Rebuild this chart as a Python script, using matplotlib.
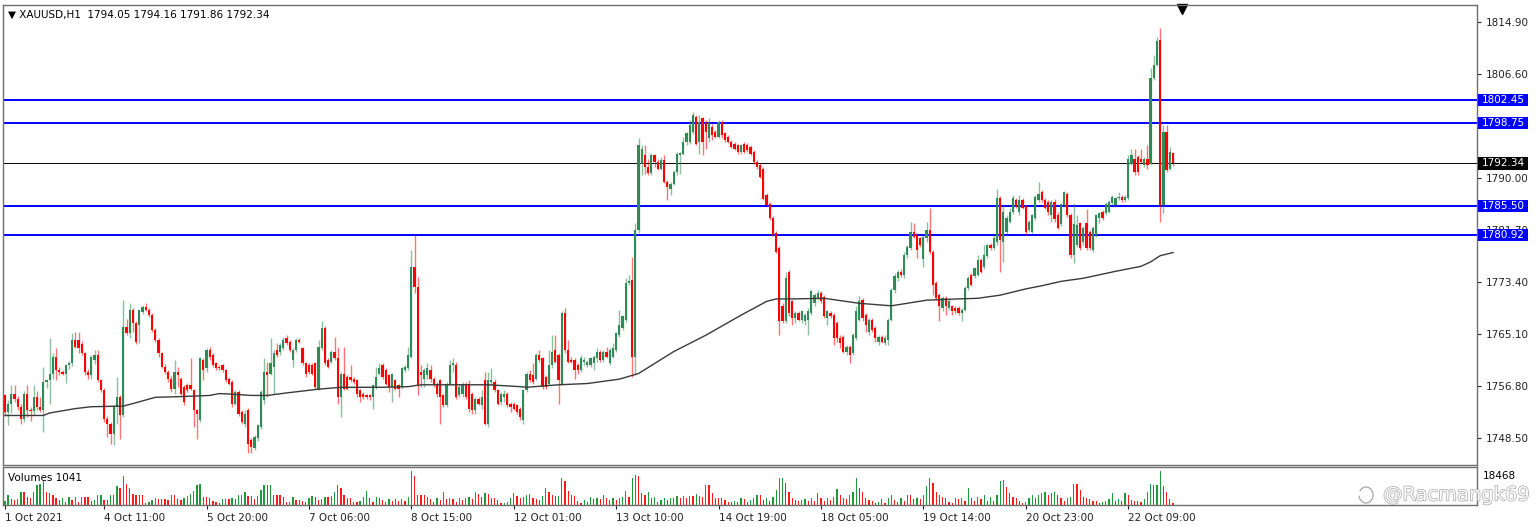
import numpy as np
import matplotlib.pyplot as plt
import matplotlib.transforms as mtransforms
import matplotlib.patheffects as pe
from matplotlib.patches import Rectangle, Arc

# ---------------- data (XAUUSD H1) ----------------
opens = [
    1755.3, 1752.7, 1754.0, 1755.5, 1754.8, 1753.5, 1751.6, 1755.6, 1753.0, 1752.8,
    1755.1, 1753.4, 1753.0, 1757.5, 1757.8, 1758.8, 1761.5, 1759.3, 1759.0, 1758.8,
    1760.1, 1760.5, 1764.1, 1764.1, 1763.5, 1762.0, 1759.1, 1758.5, 1761.0, 1761.8,
    1757.7, 1756.1, 1751.6, 1750.8, 1749.2, 1753.5, 1755.1, 1752.1, 1766.2, 1765.2,
    1768.9, 1766.8, 1766.5, 1768.6, 1769.4, 1768.9, 1768.1, 1765.7, 1764.1, 1762.0,
    1759.9, 1759.1, 1758.0, 1756.4, 1759.1, 1758.0, 1756.7, 1757.0, 1757.0, 1756.1,
    1752.9, 1751.4, 1760.9, 1759.6, 1762.5, 1761.7, 1760.4, 1759.9, 1760.1, 1759.3,
    1758.0, 1757.5, 1754.0, 1755.9, 1752.7, 1750.8, 1753.0, 1748.2, 1746.9, 1748.5,
    1750.3, 1754.6, 1759.1, 1758.8, 1759.9, 1762.5, 1762.2, 1762.8, 1764.4, 1763.9,
    1760.9, 1762.5, 1764.1, 1762.8, 1760.4, 1760.1, 1760.1, 1760.4, 1756.4, 1762.8,
    1766.0, 1760.9, 1760.7, 1762.3, 1761.2, 1755.1, 1758.8, 1758.3, 1758.3, 1758.0,
    1757.8, 1756.2, 1755.6, 1755.4, 1755.4, 1755.1, 1756.7, 1758.8, 1760.1, 1759.3,
    1758.6, 1756.7, 1757.8, 1756.9, 1756.7, 1759.3, 1759.6, 1761.5, 1775.8, 1772.6,
    1759.1, 1758.0, 1758.6, 1759.3, 1758.0, 1757.2, 1757.8, 1755.4, 1753.8, 1757.2,
    1760.1, 1760.1, 1755.4, 1755.6, 1757.2, 1757.2, 1755.6, 1753.0, 1754.8, 1753.8,
    1757.8, 1750.8, 1757.5, 1757.5, 1756.2, 1754.3, 1755.1, 1755.6, 1754.0, 1754.0,
    1753.8, 1753.2, 1751.4, 1756.2, 1758.8, 1758.6, 1758.0, 1761.7, 1761.2, 1758.3,
    1757.2, 1760.1, 1762.5, 1761.7, 1757.2, 1768.4, 1762.5, 1761.0, 1760.9, 1760.1,
    1759.3, 1760.7, 1760.2, 1760.1, 1760.4, 1761.2, 1762.3, 1761.0, 1762.3, 1760.4,
    1761.5, 1762.5, 1765.0, 1766.0, 1767.3, 1773.2, 1773.7, 1761.5, 1781.7, 1792.3,
    1793.7, 1791.8, 1790.8, 1793.7, 1792.6, 1791.5, 1792.9, 1789.4, 1788.3, 1789.1,
    1791.0, 1793.7, 1793.9, 1795.8, 1795.8, 1797.4, 1799.8, 1795.8, 1799.5, 1798.7,
    1796.3, 1798.2, 1797.4, 1796.6, 1799.0, 1797.1, 1796.6, 1795.8, 1795.5, 1795.3,
    1794.2, 1795.5, 1795.3, 1795.0, 1794.2, 1792.6, 1792.1, 1791.5, 1787.3, 1785.9,
    1783.6, 1781.2, 1778.8, 1769.5, 1767.1, 1775.0, 1770.3, 1767.6, 1768.4, 1767.3,
    1767.1, 1767.3, 1768.4, 1770.0, 1770.8, 1771.6, 1771.0, 1767.6, 1768.4, 1768.1,
    1766.8, 1764.4, 1764.7, 1762.3, 1763.0, 1762.0, 1764.4, 1767.3, 1770.5, 1768.1,
    1765.5, 1767.3, 1766.0, 1763.9, 1764.7, 1763.6, 1764.1, 1767.4, 1772.1, 1774.0,
    1775.0, 1774.5, 1777.7, 1778.8, 1781.4, 1780.9, 1780.4, 1777.0, 1780.4, 1781.7,
    1778.2, 1773.2, 1771.3, 1769.2, 1770.8, 1769.2, 1769.5, 1769.2, 1769.2, 1768.4,
    1769.0, 1772.4, 1774.5, 1774.3, 1774.5, 1776.9, 1775.8, 1777.5, 1779.3, 1778.8,
    1779.8, 1786.8, 1779.8, 1781.4, 1783.0, 1784.6, 1786.5, 1784.6, 1786.5, 1785.5,
    1781.7, 1781.4, 1783.6, 1786.5, 1787.8, 1786.5, 1786.2, 1784.1, 1786.2, 1784.1,
    1782.7, 1785.7, 1787.5, 1784.1, 1777.7, 1779.3, 1782.8, 1779.8, 1782.8, 1781.4,
    1778.5, 1780.9, 1783.6, 1784.6, 1784.4, 1784.6, 1786.0, 1785.7, 1786.8, 1787.0,
    1786.5, 1786.8, 1792.3, 1793.1, 1793.4, 1793.1, 1792.1, 1793.1, 1792.3, 1805.9,
    1808.0, 1812.0, 1785.7, 1797.4, 1791.5, 1794.05,
]
highs = [
    1755.6, 1754.6, 1757.0, 1757.0, 1755.2, 1754.0, 1756.0, 1757.0, 1753.5, 1757.0,
    1756.0, 1755.0, 1759.9, 1758.0, 1764.4, 1762.0, 1762.8, 1759.8, 1759.3, 1760.3,
    1760.8, 1765.2, 1765.5, 1765.5, 1764.0, 1762.3, 1759.5, 1761.8, 1762.5, 1762.6,
    1758.0, 1756.5, 1752.0, 1751.0, 1753.8, 1758.3, 1755.4, 1770.5, 1767.5, 1770.0,
    1769.3, 1767.2, 1769.0, 1769.8, 1770.0, 1769.2, 1768.4, 1766.0, 1764.4, 1762.3,
    1760.3, 1759.4, 1758.4, 1760.9, 1759.8, 1758.3, 1757.0, 1757.3, 1761.2, 1756.4,
    1753.2, 1761.5, 1761.3, 1762.8, 1763.1, 1762.0, 1760.6, 1760.1, 1760.3, 1759.5,
    1758.2, 1757.8, 1756.2, 1756.2, 1753.0, 1753.0, 1753.3, 1748.5, 1749.0, 1750.8,
    1756.2, 1761.2, 1760.7, 1764.4, 1762.5, 1763.6, 1763.6, 1764.7, 1764.9, 1764.1,
    1762.8, 1764.4, 1764.4, 1763.1, 1760.7, 1760.4, 1760.4, 1760.7, 1764.1, 1767.1,
    1766.3, 1761.2, 1762.5, 1764.7, 1763.1, 1759.1, 1763.1, 1758.6, 1760.1, 1758.3,
    1758.0, 1756.4, 1755.9, 1755.6, 1755.6, 1757.2, 1759.9, 1760.4, 1760.4, 1759.6,
    1758.8, 1758.9, 1758.0, 1757.2, 1759.9, 1760.1, 1763.1, 1778.5, 1780.9, 1774.2,
    1760.2, 1759.6, 1760.4, 1760.1, 1758.3, 1757.5, 1758.0, 1755.6, 1757.5, 1760.9,
    1761.2, 1760.7, 1757.2, 1757.5, 1757.5, 1757.8, 1755.9, 1755.1, 1755.1, 1756.2,
    1759.1, 1759.1, 1759.6, 1758.0, 1756.4, 1755.9, 1756.2, 1755.9, 1754.3, 1754.3,
    1754.0, 1753.5, 1756.4, 1759.1, 1759.3, 1760.4, 1762.0, 1762.5, 1761.5, 1758.6,
    1762.5, 1764.9, 1764.9, 1762.0, 1768.7, 1769.2, 1764.1, 1761.5, 1761.2, 1760.4,
    1761.7, 1761.5, 1761.0, 1761.5, 1761.8, 1762.8, 1762.6, 1762.5, 1763.1, 1762.8,
    1763.6, 1765.5, 1768.9, 1768.2, 1774.0, 1774.5, 1777.4, 1782.8, 1796.3, 1795.3,
    1795.3, 1793.0, 1794.0, 1793.9, 1793.1, 1793.4, 1793.7, 1789.7, 1789.4, 1791.2,
    1794.2, 1794.2, 1796.6, 1797.4, 1799.3, 1800.6, 1800.1, 1800.1, 1799.8, 1799.3,
    1799.5, 1798.6, 1797.7, 1799.3, 1799.3, 1797.4, 1796.9, 1796.1, 1795.8, 1795.5,
    1795.5, 1795.8, 1795.6, 1795.3, 1794.5, 1792.9, 1792.4, 1791.8, 1787.6, 1786.2,
    1783.9, 1781.5, 1779.1, 1770.0, 1775.0, 1775.3, 1770.6, 1768.7, 1768.7, 1769.0,
    1768.4, 1769.2, 1772.2, 1771.6, 1772.1, 1772.0, 1771.3, 1768.9, 1768.7, 1768.4,
    1767.1, 1764.9, 1765.0, 1763.3, 1763.3, 1765.2, 1769.5, 1771.1, 1770.8, 1768.4,
    1767.6, 1767.6, 1766.3, 1765.0, 1765.0, 1764.9, 1767.6, 1772.4, 1774.8, 1775.3,
    1775.5, 1778.2, 1779.3, 1783.0, 1782.8, 1781.2, 1780.6, 1780.9, 1783.0, 1785.2,
    1778.5, 1773.5, 1771.6, 1771.1, 1771.1, 1770.8, 1769.8, 1769.5, 1769.5, 1769.2,
    1772.7, 1774.3, 1774.8, 1775.8, 1777.7, 1777.2, 1779.3, 1779.5, 1779.6, 1780.9,
    1788.3, 1787.2, 1785.7, 1784.1, 1785.2, 1787.3, 1786.8, 1787.3, 1786.8, 1785.7,
    1783.3, 1784.3, 1787.3, 1789.4, 1788.1, 1786.8, 1786.5, 1786.5, 1786.6, 1784.6,
    1786.0, 1788.0, 1787.8, 1784.4, 1786.0, 1784.1, 1783.0, 1782.3, 1785.0, 1781.7,
    1782.3, 1784.3, 1784.6, 1784.9, 1786.2, 1786.5, 1787.3, 1787.0, 1787.8, 1787.3,
    1787.3, 1793.7, 1794.7, 1794.7, 1793.7, 1794.7, 1793.4, 1795.3, 1807.5, 1809.6,
    1812.5, 1813.9, 1798.5, 1798.5, 1795.0, 1794.16,
]
lows = [
    1752.0, 1750.6, 1752.5, 1754.2, 1753.0, 1750.8, 1751.0, 1751.8, 1751.2, 1752.2,
    1753.0, 1752.6, 1749.5, 1756.5, 1754.0, 1758.0, 1757.7, 1758.5, 1758.6, 1757.3,
    1759.5, 1760.0, 1762.8, 1762.0, 1761.8, 1758.5, 1757.9, 1758.0, 1760.3, 1757.5,
    1755.8, 1751.0, 1748.7, 1747.6, 1747.4, 1750.8, 1748.4, 1751.8, 1764.9, 1764.5,
    1765.5, 1763.5, 1763.6, 1768.3, 1768.7, 1767.8, 1765.5, 1763.8, 1761.5, 1759.7,
    1758.8, 1757.5, 1755.9, 1755.6, 1756.6, 1755.4, 1753.8, 1755.8, 1756.2, 1750.3,
    1748.4, 1751.0, 1757.8, 1759.0, 1760.9, 1759.9, 1759.4, 1759.4, 1759.0, 1757.5,
    1756.9, 1753.5, 1753.7, 1752.0, 1750.8, 1750.3, 1746.1, 1746.1, 1746.6, 1748.0,
    1750.0, 1754.0, 1755.1, 1758.5, 1755.6, 1761.5, 1761.8, 1762.5, 1763.4, 1762.3,
    1759.9, 1762.2, 1763.6, 1760.1, 1758.3, 1758.8, 1758.5, 1756.4, 1756.2, 1762.5,
    1760.1, 1759.6, 1760.4, 1761.0, 1754.0, 1751.9, 1756.2, 1756.2, 1757.5, 1757.2,
    1755.1, 1754.3, 1754.8, 1754.8, 1754.6, 1753.2, 1756.4, 1758.5, 1758.0, 1757.0,
    1755.9, 1754.3, 1756.2, 1755.1, 1756.4, 1759.0, 1759.3, 1761.2, 1771.6, 1755.3,
    1756.7, 1756.7, 1758.0, 1757.5, 1756.7, 1755.1, 1750.8, 1753.5, 1753.5, 1756.9,
    1759.0, 1754.8, 1755.1, 1755.1, 1754.8, 1752.7, 1752.4, 1752.4, 1753.8, 1753.2,
    1750.6, 1750.3, 1757.0, 1755.9, 1753.8, 1753.8, 1754.3, 1753.5, 1752.7, 1753.0,
    1752.4, 1751.4, 1750.8, 1755.9, 1757.5, 1757.2, 1757.8, 1760.7, 1756.4, 1756.4,
    1756.9, 1759.6, 1760.4, 1754.0, 1757.0, 1762.0, 1760.4, 1760.4, 1758.0, 1758.8,
    1759.0, 1760.2, 1759.9, 1759.8, 1759.3, 1760.7, 1760.7, 1760.6, 1761.2, 1760.2,
    1761.2, 1762.3, 1764.7, 1765.7, 1767.0, 1772.9, 1758.3, 1758.6, 1781.2, 1790.5,
    1790.7, 1790.5, 1790.5, 1791.8, 1791.2, 1791.2, 1789.2, 1786.5, 1787.3, 1788.8,
    1790.5, 1790.7, 1793.6, 1795.3, 1795.5, 1797.0, 1795.3, 1793.9, 1793.7, 1794.7,
    1795.8, 1796.1, 1796.3, 1796.3, 1796.3, 1795.8, 1795.6, 1794.8, 1794.5, 1793.9,
    1793.9, 1794.0, 1794.2, 1793.7, 1792.3, 1791.5, 1790.0, 1786.5, 1785.5, 1783.3,
    1780.7, 1778.0, 1764.9, 1766.8, 1766.8, 1768.0, 1766.5, 1766.8, 1767.1, 1766.8,
    1766.5, 1764.9, 1768.1, 1769.5, 1770.5, 1770.0, 1767.6, 1766.5, 1767.6, 1763.3,
    1763.9, 1762.8, 1762.0, 1761.7, 1760.5, 1761.7, 1764.1, 1767.1, 1767.1, 1765.5,
    1764.9, 1765.5, 1763.9, 1763.4, 1763.6, 1763.3, 1763.4, 1767.1, 1771.6, 1773.5,
    1774.2, 1774.0, 1777.2, 1778.5, 1780.4, 1777.2, 1779.0, 1775.8, 1779.8, 1777.9,
    1771.3, 1770.5, 1767.1, 1768.7, 1768.1, 1768.9, 1768.1, 1768.5, 1768.2, 1767.1,
    1768.7, 1772.1, 1772.7, 1774.0, 1774.3, 1774.8, 1775.5, 1777.2, 1778.5, 1778.5,
    1779.3, 1775.0, 1776.6, 1781.0, 1782.8, 1784.3, 1785.2, 1784.1, 1785.0, 1780.9,
    1781.4, 1781.2, 1783.3, 1786.2, 1786.2, 1785.0, 1784.1, 1783.0, 1783.0, 1781.8,
    1782.3, 1785.4, 1783.8, 1777.2, 1776.4, 1779.0, 1778.5, 1779.3, 1778.5, 1778.5,
    1778.2, 1780.6, 1782.8, 1783.3, 1784.1, 1784.4, 1785.7, 1785.4, 1786.5, 1786.2,
    1786.2, 1786.5, 1792.0, 1790.5, 1790.5, 1792.3, 1791.8, 1791.5, 1792.0, 1805.6,
    1807.8, 1782.9, 1784.4, 1791.0, 1791.3, 1791.86,
]
closes = [
    1752.7, 1754.0, 1755.5, 1754.8, 1753.5, 1751.6, 1755.6, 1753.0, 1752.8, 1755.1,
    1753.4, 1753.0, 1757.5, 1757.8, 1758.8, 1761.5, 1759.3, 1759.0, 1758.8, 1760.1,
    1760.5, 1764.1, 1763.1, 1762.8, 1762.0, 1759.1, 1758.5, 1761.5, 1761.8, 1757.7,
    1756.1, 1751.6, 1750.8, 1749.2, 1753.5, 1755.1, 1752.1, 1766.2, 1765.2, 1768.9,
    1766.8, 1763.9, 1768.9, 1769.4, 1768.9, 1768.1, 1765.7, 1764.1, 1762.0, 1759.9,
    1759.1, 1758.0, 1756.4, 1759.1, 1758.5, 1755.6, 1754.3, 1756.1, 1756.4, 1752.9,
    1752.4, 1761.2, 1759.3, 1762.5, 1761.4, 1760.1, 1759.6, 1759.6, 1759.3, 1757.8,
    1757.2, 1754.0, 1755.9, 1752.4, 1751.1, 1752.4, 1747.6, 1747.1, 1748.7, 1750.6,
    1755.9, 1759.1, 1758.6, 1760.4, 1762.0, 1761.7, 1763.4, 1764.1, 1763.6, 1762.5,
    1762.5, 1764.1, 1763.9, 1760.4, 1758.8, 1759.1, 1758.8, 1756.7, 1763.1, 1766.0,
    1760.4, 1759.9, 1762.3, 1761.2, 1755.1, 1758.8, 1756.4, 1756.4, 1757.8, 1757.5,
    1755.6, 1755.1, 1755.1, 1755.1, 1755.1, 1756.9, 1758.3, 1759.6, 1758.3, 1757.2,
    1756.7, 1758.8, 1756.4, 1756.4, 1759.6, 1759.9, 1761.7, 1775.8, 1772.6, 1757.0,
    1758.6, 1759.3, 1759.6, 1758.0, 1757.2, 1755.6, 1755.1, 1753.8, 1757.2, 1760.1,
    1760.4, 1755.1, 1756.7, 1757.2, 1755.1, 1753.2, 1753.0, 1754.8, 1754.0, 1755.1,
    1750.8, 1757.8, 1757.8, 1756.2, 1754.0, 1755.6, 1755.6, 1753.8, 1753.5, 1753.2,
    1752.7, 1751.9, 1756.2, 1758.8, 1757.8, 1757.5, 1761.7, 1760.9, 1756.7, 1756.7,
    1760.1, 1762.3, 1760.7, 1757.8, 1768.4, 1762.5, 1760.7, 1760.7, 1759.3, 1759.3,
    1761.2, 1761.0, 1760.6, 1761.2, 1761.5, 1762.3, 1760.9, 1762.3, 1761.5, 1762.5,
    1762.8, 1765.2, 1766.5, 1768.0, 1773.2, 1773.5, 1761.5, 1781.7, 1795.3, 1794.7,
    1791.8, 1790.8, 1793.7, 1792.6, 1791.5, 1792.9, 1789.4, 1788.6, 1789.1, 1791.0,
    1793.9, 1794.0, 1795.8, 1797.1, 1798.5, 1800.1, 1795.5, 1799.0, 1795.8, 1797.4,
    1798.7, 1796.9, 1796.6, 1799.0, 1796.9, 1796.1, 1795.8, 1795.0, 1794.7, 1794.2,
    1795.3, 1794.2, 1794.5, 1793.9, 1792.6, 1791.8, 1790.2, 1786.7, 1785.7, 1783.6,
    1780.9, 1778.2, 1767.1, 1767.1, 1774.0, 1768.4, 1767.6, 1768.4, 1767.3, 1768.7,
    1768.1, 1768.7, 1771.9, 1771.3, 1771.6, 1770.3, 1767.9, 1768.7, 1767.9, 1764.4,
    1764.4, 1763.6, 1762.3, 1763.0, 1761.7, 1764.9, 1768.7, 1770.3, 1767.6, 1766.5,
    1767.3, 1765.8, 1764.4, 1764.7, 1763.9, 1764.4, 1767.4, 1772.1, 1774.3, 1775.0,
    1774.5, 1777.7, 1779.0, 1781.4, 1780.6, 1778.5, 1779.3, 1780.6, 1781.7, 1778.2,
    1772.9, 1770.8, 1769.5, 1770.8, 1769.5, 1770.3, 1768.7, 1768.7, 1768.4, 1769.0,
    1772.4, 1774.0, 1773.0, 1775.6, 1776.9, 1775.0, 1777.7, 1779.3, 1778.8, 1780.4,
    1786.8, 1780.1, 1784.6, 1783.6, 1784.6, 1786.8, 1785.4, 1786.5, 1785.2, 1781.4,
    1783.0, 1784.1, 1787.0, 1787.5, 1786.5, 1785.2, 1784.6, 1786.2, 1783.4, 1782.0,
    1785.9, 1787.8, 1784.1, 1777.7, 1782.7, 1782.5, 1778.8, 1782.0, 1778.8, 1778.8,
    1782.0, 1784.1, 1784.4, 1783.6, 1785.9, 1786.2, 1787.0, 1786.8, 1787.0, 1786.5,
    1787.0, 1793.1, 1793.7, 1791.0, 1791.0, 1792.6, 1793.1, 1792.1, 1805.9, 1808.0,
    1811.8, 1785.7, 1797.4, 1791.3, 1794.2, 1792.34,
]
volumes = [
    2200, 5200, 3100, 2800, 3100, 7000, 7000, 4300, 3900, 7000,
    10800, 11600, 12800, 7000, 6500, 5600, 3900, 2800, 3900, 1500,
    4300, 2800, 4300, 1500, 4300, 4300, 4300, 2200, 2500, 5200,
    5600, 2800, 2600, 5600, 5600, 10500, 9000, 15900, 11600, 9000,
    6000, 5600, 5200, 5200, 1200, 1500, 2500, 3900, 3100, 3100,
    3100, 2600, 5600, 5600, 3100, 2600, 3900, 4800, 6100, 7500,
    10800, 11200, 4500, 4300, 3900, 2200, 1400, 900, 3100, 3400,
    3100, 3900, 3100, 5200, 5600, 7000, 4900, 4800, 3100, 5000,
    8000, 10800, 10800, 11100, 5600, 5600, 5200, 4300, 1400, 1900,
    4300, 2600, 2600, 2200, 1400, 3600, 4800, 4300, 2600, 3100,
    4300, 4300, 4800, 7000, 10800, 9000, 5600, 3900, 3900, 1900,
    1400, 2200, 4300, 7600, 3600, 1900, 4300, 3900, 2600, 1900,
    3100, 2200, 3100, 2200, 3100, 2200, 4500, 18468, 15600, 5600,
    5600, 5600, 4300, 3100, 1900, 3600, 2800, 7000, 3100, 3900,
    3100, 1400, 3600, 2600, 3600, 4300, 3100, 7000, 6000, 4300,
    6500, 6000, 3600, 3600, 2600, 900, 1000, 1400, 3900, 6500,
    4800, 3900, 4300, 5600, 6200, 3900, 3100, 2600, 4800, 9500,
    7200, 5600, 4800, 5000, 14500, 12800, 7600, 5600, 4800, 2200,
    1200, 2600, 1900, 4300, 3100, 3900, 3100, 5200, 3900, 2600,
    3900, 2600, 3900, 4300, 7500, 4300, 14800, 16200, 15500, 6500,
    5600, 7000, 3600, 4300, 1400, 2600, 3900, 2600, 3600, 3900,
    4800, 3900, 4800, 3900, 5000, 4800, 6000, 5000, 4500, 10800,
    10800, 6500, 3900, 3600, 3600, 2600, 1400, 1400, 2200, 1900,
    3600, 3100, 1900, 2600, 3600, 5600, 5400, 2700, 3600, 2200,
    4500, 8000, 14500, 14800, 11800, 6900, 3600, 2700, 2200, 2700,
    3300, 2200, 3600, 2200, 6300, 3600, 2200, 3600, 2700, 4500,
    8700, 5400, 4000, 3300, 5400, 7000, 14500, 9000, 7200, 4000,
    2700, 2200, 900, 1800, 3300, 900, 4000, 5400, 2700, 1800,
    3600, 2200, 5400, 5400, 3300, 3600, 3300, 5400, 10500, 14500,
    11800, 6900, 5400, 4500, 3600, 1800, 900, 4000, 3300, 3600,
    2200, 9400, 3600, 2200, 4500, 3300, 5400, 2200, 4500, 2200,
    5400, 13000, 13600, 9900, 6300, 4500, 3600, 2200, 900, 1800,
    3600, 5400, 4000, 5400, 6300, 6900, 5400, 6300, 6900, 5400,
    3600, 2200, 3600, 4500, 11200, 11200, 8100, 4500, 4000, 3300,
    2200, 2200, 900, 1800, 2200, 3300, 6300, 2200, 3300, 2200,
    6300, 5400, 2700, 2200, 2200, 1500, 3300, 7000, 11200, 10900,
    11000, 18200, 10500, 6900, 3300, 1041,
]
# moving average read at a few bars
ma_bar = [0, 12, 14, 22, 27, 37, 40, 47, 54, 64, 67, 71, 77, 82, 88, 98, 105, 118, 126, 130,
          140, 151, 161, 163, 173, 182, 192, 198, 209, 219, 230, 238, 241, 246, 256, 267,
          277, 288, 298, 304, 311, 319, 324, 330, 337, 347, 355, 358, 361, 365]
ma_val = [1752.1, 1752.1, 1752.5, 1753.2, 1753.5, 1753.6, 1754.0, 1755.0, 1755.1, 1755.3,
          1755.6, 1755.5, 1755.3, 1755.3, 1755.7, 1756.3, 1756.6, 1756.6, 1756.7, 1757.0,
          1757.0, 1757.0, 1756.7, 1756.6, 1757.0, 1757.2, 1757.9, 1758.8, 1762.3, 1764.9,
          1768.1, 1770.3, 1770.7, 1770.7, 1770.8, 1770.0, 1769.6, 1770.5, 1770.7, 1770.8,
          1771.3, 1772.3, 1772.8, 1773.5, 1774.0, 1775.1, 1775.9, 1776.6, 1777.6, 1778.1]

levels = [1802.45, 1798.75, 1785.50, 1780.92]
price_ticks = [1748.50, 1756.80, 1765.10, 1773.40, 1781.70, 1790.00, 1798.30, 1806.60, 1814.90]
hidden_ticks = [1798.30]          # covered by the 1798.75 tag in the terminal
time_pos = [0, 31, 63, 95, 127, 159, 191, 223, 255, 287, 319, 351]
time_labels = ['1 Oct 2021', '4 Oct 11:00', '5 Oct 20:00', '7 Oct 06:00', '8 Oct 15:00',
               '12 Oct 01:00', '13 Oct 10:00', '14 Oct 19:00', '18 Oct 05:00',
               '19 Oct 14:00', '20 Oct 23:00', '22 Oct 09:00']
vol_scale = 18468

# ---------------- drawing ----------------
plt.rcParams['font.family'] = ['DejaVu Sans']
W, H = 1536, 527
fig = plt.figure(figsize=(W / 100, H / 100), dpi=100)
ax = fig.add_axes([3 / W, 1 - 465 / H, 1474 / W, 460 / H])
axv = fig.add_axes([3 / W, 1 - 505 / H, 1474 / W, 38 / H], sharex=ax)

n = min(len(opens), len(highs), len(lows), len(closes))
x = np.arange(n)
o = np.array(opens[:n]); h = np.array(highs[:n])
l = np.array(lows[:n]); c = np.array(closes[:n])
bull, bear = '#2e8b57', '#ff0000'
cols = np.where(c >= o, bull, bear)

ax.vlines(x, l, h, colors=cols, lw=1.0, alpha=0.55, zorder=3)
ax.bar(x, np.maximum(np.abs(c - o), 0.15), bottom=np.minimum(o, c), width=0.7,
       color=cols, linewidth=0, zorder=4)

ax.plot(ma_bar, ma_val, color='#3a3a3a', lw=1.0, zorder=5)
for lv in levels:
    ax.axhline(lv, color='#0000ff', lw=1.4, zorder=2)
ax.axhline(closes[-1], color='black', lw=0.7, zorder=2)

ax.set_xlim(-0.6, 460)
ax.set_ylim(1744.2, 1817.6)
ax.yaxis.tick_right()
ax.set_yticks(price_ticks)
ax.set_yticklabels(['' if t in hidden_ticks else f'{t:.2f}' for t in price_ticks])
ax.tick_params(axis='y', direction='out', length=3, width=0.8, pad=3, labelsize=7.5,
               colors='#222222')
ax.tick_params(axis='x', bottom=False, labelbottom=False)
for sp in ax.spines.values():
    sp.set_color('#6e6e6e'); sp.set_linewidth(1)

# price tags on the right scale
ty = mtransforms.blended_transform_factory(ax.transAxes, ax.transData)
for lv, fc in [(v, '#0000ff') for v in levels] + [(closes[-1], 'black')]:
    ax.add_patch(Rectangle((1.0009, lv - 1.0), 0.0335, 2.0, transform=ty, facecolor=fc,
                           edgecolor='none', clip_on=False, zorder=10))
    ax.text(1.0035, lv, f'{lv:.2f}', transform=ty, color='white', fontsize=7.5,
            va='center', ha='left', zorder=11, clip_on=False)

# chart shift marker
tx = mtransforms.blended_transform_factory(ax.transData, ax.transAxes)
ax.plot([n + 1.8], [0.992], marker='v', ms=7, color='black', transform=tx, clip_on=False)

ax.text(0.0035, 0.978, '\u25bc XAUUSD,H1  ' + f'{opens[-1]:.2f} {highs[-1]:.2f} '
        f'{lows[-1]:.2f} {closes[-1]:.2f}', transform=ax.transAxes, fontsize=7.5,
        va='center', ha='left', color='black')

# volume pane
vx = np.arange(len(volumes))
vcols = ['#1f9a3a' if i == 0 or volumes[i] > volumes[i - 1] else '#ff1a1a'
         for i in range(len(volumes))]
axv.bar(vx, volumes, width=0.4, color=vcols, linewidth=0)
axv.set_ylim(0, vol_scale * 38 / 34)
axv.set_yticks([])
axv.set_xticks(time_pos)
axv.set_xticklabels(time_labels)
for lbl in axv.get_xticklabels():
    lbl.set_ha('left')
axv.tick_params(axis='x', direction='out', length=3, width=0.8, pad=3, labelsize=7.5,
                colors='#222222')
for sp in axv.spines.values():
    sp.set_color('#6e6e6e'); sp.set_linewidth(1)
axv.text(0.0035, 0.72, f'Volumes {volumes[-1]}', transform=axv.transAxes, fontsize=7.5,
         va='center', ha='left')
axv.text(1.004, 0.76, f'{vol_scale}', transform=axv.transAxes, fontsize=7.5,
         va='center', ha='left')

# watermark (outlined text + small logo)
wm = fig.text(1383 / W, 1 - 495 / H, '@Racmangk69', fontsize=14, color='white',
              va='center', ha='left', zorder=20)
wm.set_path_effects([pe.withStroke(linewidth=1.0, foreground='#a6a6a6')])
fig.add_artist(Arc((1366 / W, 1 - 495 / H), 14 / W, 16 / H, theta1=200, theta2=120,
                   color='#a6a6a6', lw=0.9, transform=fig.transFigure))

fig.savefig('out.png', dpi=100, facecolor='white')
